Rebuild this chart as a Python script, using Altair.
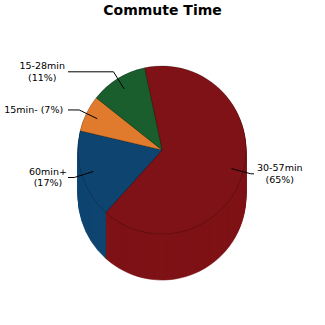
import math

import altair as alt
import pandas as pd

# Commute time shares (percent of commuters)
categories = ["30-57min", "60min+", "15min-", "15-28min"]
shares = [65, 17, 7, 11]
colors = ["#7e1216", "#0e4470", "#e07a2c", "#1a5e2e"]
label_joiners = ["\n", "\n", " ", "\n"]

# Layout (view coordinates, pixels)
TOP_PAD = 22
VIEW_W, VIEW_H = 325, 325 - TOP_PAD
CX, CY = 162, 128          # centre of the pie's top face
R = 84                     # pie radius
DEPTH = 46                 # thickness of the pie
START_DEG = 348            # where the first slice begins (clockwise from 12 o'clock)
FONT = "DejaVu Sans"
LABEL_SIZE = 9.5
LINE_HEIGHT = 11.5

start_rad = math.radians(START_DEG)
theta_scale = alt.Scale(domain=[0, 100], range=[start_rad, start_rad + 2 * math.pi])
color_scale = alt.Scale(domain=categories, range=colors)

slices = pd.DataFrame({"category": categories, "share": shares})
slices["end"] = slices["share"].cumsum()
slices["start"] = slices["end"] - slices["share"]
slices["mid"] = (slices["start"] + slices["end"]) / 2

base = alt.Chart(slices).encode(
    theta=alt.Theta("start:Q", scale=theta_scale, stack=None),
    theta2="end:Q",
    color=alt.Color("category:N", scale=color_scale, legend=None),
    x=alt.value(CX),
)

# Side wall of the pie: the same slices repeated downwards, deepest first
side_layers = [
    base.mark_arc(radius=R, strokeWidth=0.6).encode(
        stroke=alt.Stroke("category:N", scale=color_scale, legend=None),
        y=alt.value(CY + d),
    )
    for d in range(DEPTH, 0, -1)
]

top_layer = base.mark_arc(
    radius=R, stroke="#000000", strokeOpacity=0.25, strokeWidth=0.8
).encode(y=alt.value(CY))

# Leader lines and labels, placed from each slice's middle angle
LEFT_X = CX - R - 10
RIGHT_X = CX + R + 8
leader_rows, label_rows = [], []
for cat, share, mid, joiner in zip(
    slices["category"], slices["share"], slices["mid"], label_joiners
):
    ang = start_rad + mid / 100 * 2 * math.pi
    s, c = math.sin(ang), math.cos(ang)
    p0 = (CX + (R - 12) * s, CY - (R - 12) * c)
    p1 = (CX + (R + 8) * s, CY - (R + 8) * c)
    end_x = LEFT_X if s < 0 else RIGHT_X
    for step, (lx, ly) in enumerate([p0, p1, (end_x, p1[1])]):
        leader_rows.append({"category": cat, "step": step, "lx": lx, "ly": ly})
    text = f"{cat}{joiner}({share}%)"
    lines = text.split("\n")
    width = max(len(t) for t in lines) * 0.6 * LABEL_SIZE
    tx = end_x - 3 - width / 2 if s < 0 else end_x + 3 + width / 2
    ty = p1[1] - (len(lines) - 1) * LINE_HEIGHT / 2
    label_rows.append({"category": cat, "label": text, "tx": tx, "ty": ty})

leaders = alt.Chart(pd.DataFrame(leader_rows)).mark_line(
    color="#000000", strokeWidth=1
).encode(
    x=alt.X("lx:Q", scale=None, axis=None),
    y=alt.Y("ly:Q", scale=None, axis=None),
    detail="category:N",
    order="step:Q",
)

labels = alt.Chart(pd.DataFrame(label_rows)).mark_text(
    font=FONT, fontSize=LABEL_SIZE, color="#000000", lineHeight=LINE_HEIGHT,
    align="center", baseline="middle", lineBreak="\n",
).encode(
    x=alt.X("tx:Q", scale=None, axis=None),
    y=alt.Y("ty:Q", scale=None, axis=None),
    text="label:N",
)

chart = alt.layer(*side_layers, top_layer, leaders, labels).properties(
    width=VIEW_W,
    height=VIEW_H,
    autosize="none",
    padding={"left": 0, "right": 0, "top": TOP_PAD, "bottom": 0},
    background="#ffffff",
    title=alt.TitleParams(
        "Commute Time", font=FONT, fontSize=14, fontWeight="bold",
        color="#000000", anchor="middle", offset=4,
    ),
).configure_view(stroke=None)

chart.save("out.html", embed_options={"renderer": "svg", "actions": False})
